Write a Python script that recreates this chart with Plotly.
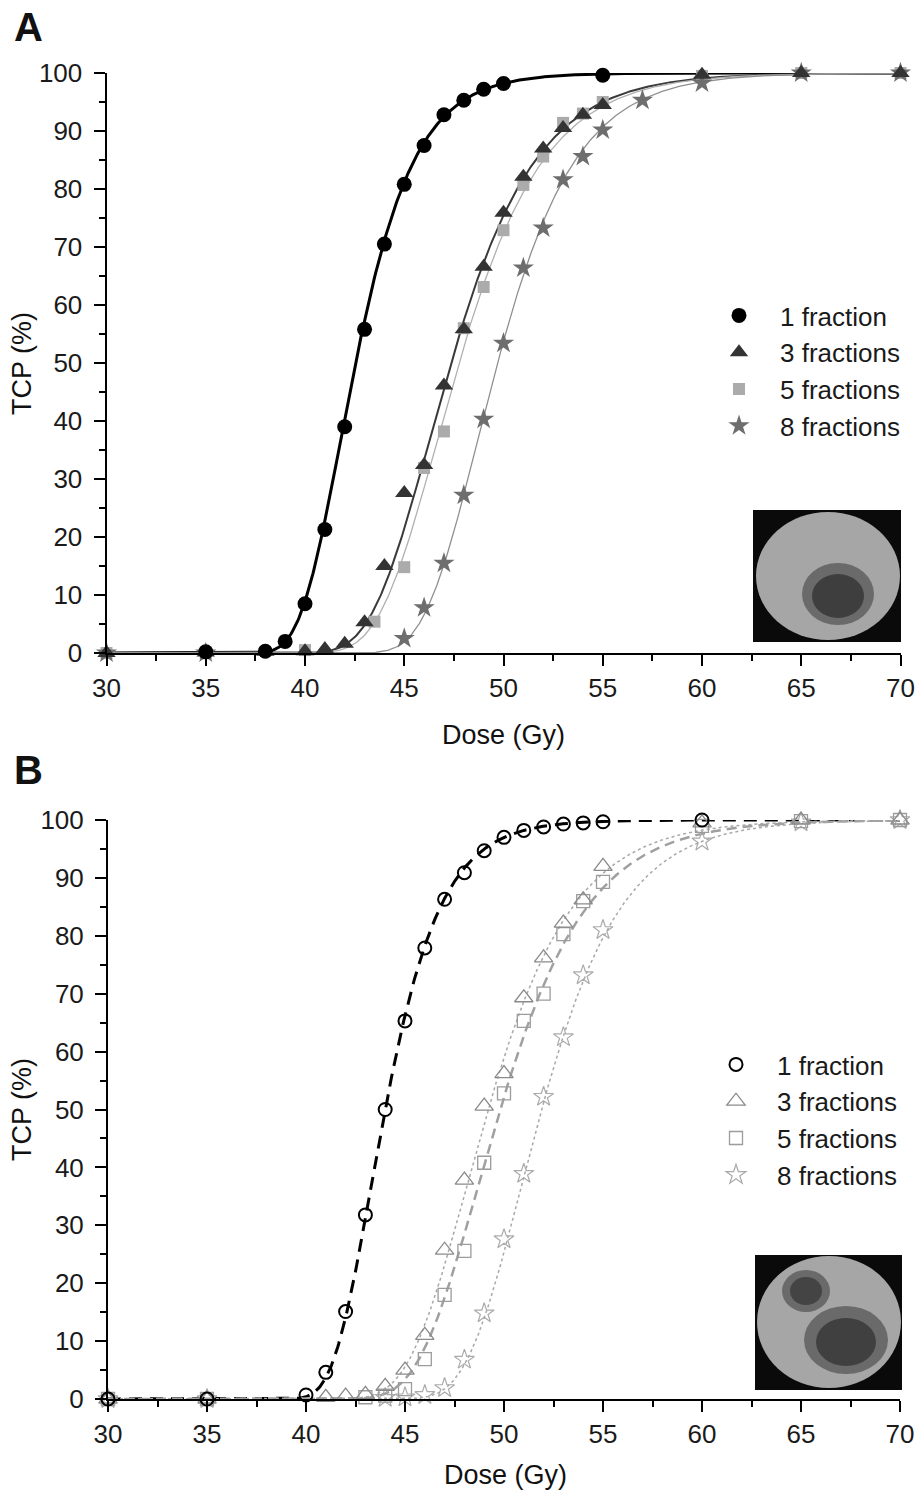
import numpy as np
import plotly.graph_objects as go

W, H = 917, 1500
PAGE_OFF = 0  # body margin is removed by the post script below
FONT = "Liberation Sans, Arial, sans-serif"

# ---------------- Panel A data (filled symbols) ----------------
dose_a1 = [35, 38, 39, 40, 41, 42, 43, 44, 45, 46, 47, 48, 49, 50, 55]
tcp_a1 = [0.2, 0.3, 2.0, 8.5, 21.3, 39.0, 55.8, 70.5, 80.8, 87.5, 92.8, 95.3, 97.2, 98.2, 99.6]

dose_a3 = [30, 35, 38, 40, 41, 42, 43, 44, 45, 46, 47, 48, 49, 50, 51, 52, 53, 54, 55, 60, 65, 70]
tcp_a3 = [0, 0.1, 0.2, 0.3, 0.7, 1.6, 5.3, 15.0, 27.6, 32.4, 46.1, 55.8, 66.6, 75.9, 82.1, 87.0,
          90.5, 92.8, 94.5, 99.7, 100, 100]

dose_a5 = [30, 35, 40, 43.5, 45, 46, 47, 48, 49, 50, 51, 52, 53, 54, 55, 60, 65, 70]
tcp_a5 = [0, 0, 0.5, 5.4, 14.8, 31.9, 38.2, 56.0, 63.1, 72.9, 80.7, 85.6, 91.4, 93.0, 95.0, 99.5, 100, 100]

dose_a8 = [30, 35, 45, 46, 47, 48, 49, 50, 51, 52, 53, 54, 55, 57, 60, 65, 70]
tcp_a8 = [0, 0, 2.5, 7.8, 15.5, 27.2, 40.3, 53.4, 66.4, 73.3, 81.6, 85.6, 90.2, 95.3, 98.3, 100, 100]

# ---------------- Panel B data (open symbols) ----------------
dose_b1 = [30, 35, 40, 41, 42, 43, 44, 45, 46, 47, 48, 49, 50, 51, 52, 53, 54, 55, 60]
tcp_b1 = [0, 0, 0.7, 4.6, 15.1, 31.8, 50.0, 65.3, 77.9, 86.3, 90.9, 94.7, 97.0, 98.2, 98.8,
          99.3, 99.5, 99.7, 100]

dose_b3 = [30, 35, 41, 42, 43, 44, 45, 46, 47, 48, 49, 50, 51, 52, 53, 54, 55, 60, 65, 70]
tcp_b3 = [0, 0, 0.3, 0.5, 0.8, 2.2, 5.0, 11.0, 25.7, 37.8, 50.6, 56.2, 69.3, 76.2, 82.2, 86.2,
          92.0, 99.5, 100, 100]

dose_b5 = [30, 35, 43, 44, 45, 46, 47, 48, 49, 50, 51, 52, 53, 54, 55, 60, 65, 70]
tcp_b5 = [0, 0, 0.3, 0.6, 1.7, 6.9, 18.0, 25.6, 40.8, 52.8, 65.3, 70.0, 80.3, 86.0, 89.3, 99.0, 99.8, 100]

dose_b8 = [30, 35, 44, 45, 46, 47, 48, 49, 50, 51, 52, 53, 54, 55, 60, 65, 70]
tcp_b8 = [0, 0, 0.2, 0.3, 0.7, 1.9, 6.8, 14.8, 27.6, 38.9, 52.2, 62.5, 73.2, 81.0, 96.3, 99.6, 100]

# Fitted Poisson TCP model parameters (D50 in Gy, slope k per Gy)
labels = ["1 fraction", "3 fractions", "5 fractions", "8 fractions"]
fit_a_d50 = [42.55, 47.35, 47.75, 49.7]
fit_a_k = [0.49, 0.34, 0.34, 0.37]
fit_b_d50 = [44.0, 49.2, 49.8, 51.9]
fit_b_k = [0.52, 0.34, 0.33, 0.36]

x_ticks = [30, 35, 40, 45, 50, 55, 60, 65, 70]
y_ticks = [0, 10, 20, 30, 40, 50, 60, 70, 80, 90, 100]

dose_grid = np.linspace(30, 70, 801)


def tcp_model(d50, k):
    return 100 * np.exp(-np.log(2) * np.exp(k * (d50 - dose_grid)))


def px(xp, yp):
    """page pixel -> paper coordinate"""
    return (xp - PAGE_OFF) / W, 1 - (yp - PAGE_OFF) / H


fig = go.Figure()

# ---------- Panel A ----------
curve_a_style = [
    dict(color="#000000", width=3),
    dict(color="#3a3a3a", width=2),
    dict(color="#b0b0b0", width=1.3),
    dict(color="#909090", width=1.3),
]
for d50, k, st in zip(fit_a_d50, fit_a_k, curve_a_style):
    fig.add_trace(go.Scatter(x=dose_grid, y=tcp_model(d50, k), mode="lines", line=st,
                             showlegend=False, hoverinfo="skip", xaxis="x", yaxis="y",
                             cliponaxis=False))

marker_a = [
    dict(symbol="circle", size=15, color="#000000"),
    dict(symbol="triangle-up", size=16, color="#333333"),
    dict(symbol="square", size=12, color="#ababab"),
    dict(symbol="star", size=16, color="#6e6e6e"),
]
data_a = [(dose_a1, tcp_a1), (dose_a3, tcp_a3), (dose_a5, tcp_a5), (dose_a8, tcp_a8)]
for i in [2, 3, 1, 0]:
    d, t = data_a[i]
    fig.add_trace(go.Scatter(x=d, y=t, mode="markers", marker=marker_a[i], name=labels[i],
                             legend="legend", legendrank=i, xaxis="x", yaxis="y",
                             cliponaxis=False))

# ---------- Panel B ----------
curve_b_style = [
    dict(color="#000000", width=3, dash="13px,8px"),
    dict(color="#a8a8a8", width=1.5, dash="3px,3px"),
    dict(color="#a0a0a0", width=2.5, dash="10px,6px"),
    dict(color="#a8a8a8", width=1.5, dash="3px,3px"),
]
for d50, k, st in zip(fit_b_d50, fit_b_k, curve_b_style):
    fig.add_trace(go.Scatter(x=dose_grid, y=tcp_model(d50, k), mode="lines", line=st,
                             showlegend=False, hoverinfo="skip", xaxis="x2", yaxis="y2",
                             cliponaxis=False))

marker_b = [
    dict(symbol="circle-open", size=13, color="#000000", line=dict(width=2)),
    dict(symbol="triangle-up-open", size=16, color="#8a8a8a", line=dict(width=1.3)),
    dict(symbol="square-open", size=13, color="#9c9c9c", line=dict(width=1.3)),
    dict(symbol="star-open", size=15, color="#ababab", line=dict(width=1.2)),
]
data_b = [(dose_b1, tcp_b1), (dose_b3, tcp_b3), (dose_b5, tcp_b5), (dose_b8, tcp_b8)]
for i in [3, 2, 1, 0]:
    d, t = data_b[i]
    fig.add_trace(go.Scatter(x=d, y=t, mode="markers", marker=marker_b[i], name=labels[i],
                             legend="legend2", legendrank=i, xaxis="x2", yaxis="y2",
                             cliponaxis=False))


def xaxis_cfg(domain, anchor):
    return dict(domain=domain, anchor=anchor, range=[30, 70], tickvals=x_ticks,
                showline=True, linecolor="black", linewidth=2, mirror=False,
                ticks="outside", ticklen=11, tickwidth=2, tickcolor="black",
                showgrid=False, zeroline=False, ticklabelstandoff=0, automargin=False,
                tickfont=dict(family=FONT, size=26, color="#1a1a1a"),
                minor=dict(ticks="outside", ticklen=6, tickwidth=2, tickcolor="black",
                           dtick=2.5, tick0=30, showgrid=False))


def yaxis_cfg(domain, anchor):
    return dict(domain=domain, anchor=anchor, range=[0, 100], tickvals=y_ticks,
                showline=True, linecolor="black", linewidth=2,
                ticks="outside", ticklen=11, tickwidth=2, tickcolor="black",
                showgrid=False, zeroline=False, ticklabelstandoff=6, automargin=False,
                tickfont=dict(family=FONT, size=26, color="#1a1a1a"),
                minor=dict(ticks="outside", ticklen=6, tickwidth=2, tickcolor="black",
                           dtick=5, tick0=0, showgrid=False))


a_x0, a_y1 = px(106.5, 653)
a_x1, a_y0 = px(900.5, 73)
b_x0, b_y1 = px(108, 1399)
b_x1, b_y0 = px(900, 820)

legend_common = dict(bgcolor="rgba(0,0,0,0)", borderwidth=0,
                     font=dict(family=FONT, size=26, color="#1a1a1a"),
                     xanchor="left", yanchor="top", traceorder="normal",
                     itemwidth=72, itemclick=False, itemdoubleclick=False)
la_x, la_y = px(698, 292)
lb_x, lb_y = px(695, 1041)

fig.update_layout(
    width=W, height=H, plot_bgcolor="white", paper_bgcolor="white",
    margin=dict(l=0, r=0, t=0, b=0, pad=0, autoexpand=False),
    xaxis=xaxis_cfg([a_x0, a_x1], "y"), yaxis=yaxis_cfg([a_y1, a_y0], "x"),
    xaxis2=xaxis_cfg([b_x0, b_x1], "y2"), yaxis2=yaxis_cfg([b_y1, b_y0], "x2"),
    legend=dict(x=la_x, y=la_y, **legend_common),
    legend2=dict(x=lb_x, y=lb_y, **legend_common),
)

# ---------- Text annotations ----------
ann = []


def add_text(text, xp, yp, size, angle=0, xanchor="center", yanchor="middle"):
    xx, yy = px(xp, yp)
    ann.append(dict(text=text, x=xx, y=yy, xref="paper", yref="paper", showarrow=False,
                    textangle=angle, xanchor=xanchor, yanchor=yanchor,
                    font=dict(family=FONT, size=size, color="#111111")))


add_text("<b>A</b>", 12, 27, 40, xanchor="left")
add_text("<b>B</b>", 12, 770, 40, xanchor="left")
add_text("TCP (%)", 22, 364, 27, angle=-90)
add_text("TCP (%)", 22, 1110, 27, angle=-90)
add_text("Dose (Gy)", 503, 735, 27)
add_text("Dose (Gy)", 505, 1475, 27)
fig.update_layout(annotations=ann)

# ---------- Inset phantom images (decorative) ----------
shapes = []


def rect(x0, y0, x1, y1, color):
    a = px(x0, y1)
    b = px(x1, y0)
    shapes.append(dict(type="rect", xref="paper", yref="paper", x0=a[0], y0=a[1],
                       x1=b[0], y1=b[1], fillcolor=color, line=dict(width=0), layer="above"))


def ellipse(cx, cy, rx, ry, color):
    a = px(cx - rx, cy + ry)
    b = px(cx + rx, cy - ry)
    shapes.append(dict(type="circle", xref="paper", yref="paper", x0=a[0], y0=a[1],
                       x1=b[0], y1=b[1], fillcolor=color, line=dict(width=0), layer="above"))


# inset A
rect(753, 510, 901, 642, "#0a0a0a")
ellipse(828, 576, 72, 64, "#a6a6a6")
ellipse(838, 594, 36, 31, "#6a6a6a")
ellipse(838, 596, 26, 22, "#3e3e3e")
# inset B
rect(755, 1255, 902, 1390, "#0a0a0a")
ellipse(829, 1322, 72, 66, "#a6a6a6")
ellipse(806, 1291, 24, 21, "#6a6a6a")
ellipse(806, 1291, 16, 14, "#444444")
ellipse(846, 1340, 42, 34, "#6a6a6a")
ellipse(846, 1342, 30, 24, "#404040")
fig.update_layout(shapes=shapes)

fig.write_html("out.html", config={"displayModeBar": False},
               post_script="document.body.style.margin='0';document.body.style.overflow='hidden';")
